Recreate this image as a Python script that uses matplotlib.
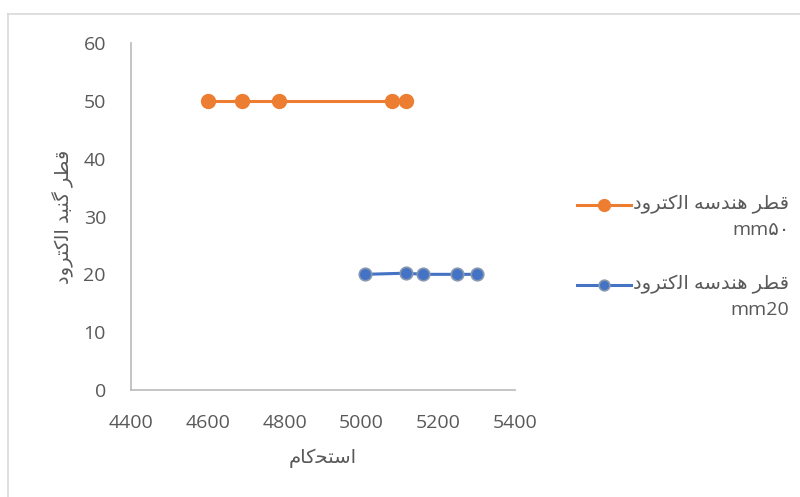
import matplotlib
matplotlib.use("Agg")
import numpy as np
import matplotlib.pyplot as plt
from matplotlib.lines import Line2D
from matplotlib.legend_handler import HandlerLine2D

# matplotlib no hace el "shaping" del arabe, asi que las palabras van
# escritas con formas de presentacion y en orden visual (izq -> der).
# استحکام
x_label = "\uFEE1\uFE8E\uFB90\uFEA4\uFE98\uFEB3\uFE8D"
# قطر گنبد الکترود
y_label = ("\uFEA9\uFEED\uFEAE\uFE98\uFB90\uFEDF\uFE8D" + " " +
           "\uFEAA\uFE92\uFEE8\uFB94" + " " +
           "\uFEAE\uFEC4\uFED7")
# قطر هندسه الکترود
leg_fa = ("\uFEA9\uFEED\uFEAE\uFE98\uFB90\uFEDF\uFE8D" + " " +
          "\uFEEA\uFEB3\uFEAA\uFEE8\uFEEB" + " " +
          "\uFEAE\uFEC4\uFED7")

label_50 = leg_fa + "\nmm\u06F5\u06F0"
label_20 = leg_fa + "\nmm20"

# Datos
x_50 = [4600, 4690, 4785, 5080, 5115]
y_50 = [50, 50, 50, 50, 50]
x_20 = [5010, 5117, 5160, 5250, 5300]
y_20 = [20, 20.2, 20, 20, 20]

xticks = [4400, 4600, 4800, 5000, 5200, 5400]
yticks = [0, 10, 20, 30, 40, 50, 60]

orange = "#ED7D31"
blue = "#4472C4"
gray = "#595959"


# Handler que sube la linea de la leyenda hasta la primera linea del texto
class RaisedHandler(HandlerLine2D):
    def __init__(self, dy, **kw):
        super().__init__(**kw)
        self.dy = dy

    def create_artists(self, legend, orig_handle, xdescent, ydescent,
                       width, height, fontsize, trans):
        artists = super().create_artists(legend, orig_handle, xdescent, ydescent,
                                         width, height, fontsize, trans)
        for a in artists:
            a.set_ydata(np.asarray(a.get_ydata()) + self.dy)
        return artists


plt.rcParams['font.family'] = ['Open Sans', 'DejaVu Sans']

fig = plt.figure(figsize=(8, 4.97), dpi=100)
ax = fig.add_axes([131/800, 1 - 390/497, (515-131)/800, (390-43)/497])

l50, = ax.plot(x_50, y_50, color=orange, lw=2.2, marker='o', ms=10,
               markerfacecolor=orange, markeredgecolor=orange, label=label_50)
l20, = ax.plot(x_20, y_20, color=blue, lw=2.2, marker='o', ms=9,
               markerfacecolor=blue, markeredgecolor="#8797b0", markeredgewidth=1.2,
               label=label_20)

ax.set_xlim(4400, 5400)
ax.set_ylim(0, 60)
ax.set_xticks(xticks)
ax.set_yticks(yticks)
ax.tick_params(length=0, labelsize=14, colors=gray)
ax.tick_params(axis='y', pad=18)
ax.tick_params(axis='x', pad=17)
for s in ['top', 'right']:
    ax.spines[s].set_visible(False)
for s in ['left', 'bottom']:
    ax.spines[s].set_color("#BFBFBF")
    ax.spines[s].set_linewidth(1.3)

ax.set_xlabel(x_label, fontsize=14, color=gray, labelpad=12)
ax.set_ylabel(y_label, fontsize=14, color=gray, labelpad=7)

leg = ax.legend(loc='center left', bbox_to_anchor=(1.116, 0.383), frameon=False,
                fontsize=14, handlelength=2.75, labelspacing=1.85, handletextpad=0.15,
                labelcolor=gray, markerscale=0.85,
                handler_map={l50: RaisedHandler(9), l20: RaisedHandler(9)})
for t in leg.get_texts():
    t.set_multialignment('right')
    t.set_linespacing(1.5)

# Marco de la figura
fig.add_artist(Line2D([8/800, 1], [1 - 14/497, 1 - 14/497], color="#D9D9D9", lw=1.2))
fig.add_artist(Line2D([8/800, 8/800], [0, 1 - 14/497], color="#D9D9D9", lw=1.2))

fig.savefig("out.png", dpi=100)
